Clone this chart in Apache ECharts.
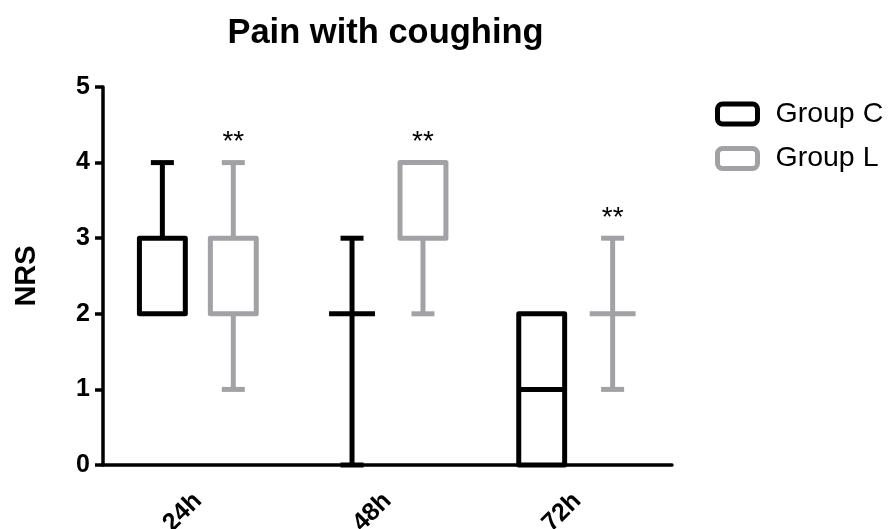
<!DOCTYPE html>
<html>
<head>
<meta charset="utf-8">
<script src="https://cdn.jsdelivr.net/npm/echarts@6/dist/echarts.min.js"></script>
<style>
html,body{margin:0;padding:0;background:#fff;}
#chart{width:890px;height:529px;}
</style>
</head>
<body>
<div id="chart"></div>
<script>
// ---- data ----
var categories = ['24h', '48h', '72h'];
// [min, Q1, median, Q3, max]
var groupC = [[2, 2, 2, 3, 4], [0, 2, 2, 2, 3], [0, 0, 1, 2, 2]];
var groupL = [[1, 2, 2, 3, 4], [2, 3, 3, 4, 4], [1, 2, 2, 2, 3]];
var significance = ['**', '**', '**'];
var yTicks = [0, 1, 2, 3, 4, 5];

var BLACK = '#000000';
var GRAY = '#a2a2a6';
var FONT = '"Liberation Sans", Arial, Helvetica, sans-serif';

function toSeriesData(stats) {
  return stats.map(function (s, i) { return [i].concat(s); });
}

function makeRender(sign, color, labels) {
  return function (params, api) {
    var idx = api.value(0);
    var mn = api.value(1), q1 = api.value(2), md = api.value(3), q3 = api.value(4), mx = api.value(5);
    var band = api.size([1, 0])[0];
    var cx = api.coord([idx, 0])[0] + sign * band * 0.187;
    var hb = band * 0.121;
    var hc = 11.5;
    var y = function (v) { return api.coord([idx, v])[1]; };
    var lw = 5;
    var st = { stroke: color, lineWidth: lw, fill: null, lineJoin: 'round', lineCap: 'butt' };
    var ch = [];
    if (mn < q1) {
      ch.push({ type: 'line', shape: { x1: cx, y1: y(q1), x2: cx, y2: y(mn) }, style: st });
      ch.push({ type: 'line', shape: { x1: cx - hc, y1: y(mn), x2: cx + hc, y2: y(mn) }, style: st });
    }
    if (mx > q3) {
      ch.push({ type: 'line', shape: { x1: cx, y1: y(q3), x2: cx, y2: y(mx) }, style: st });
      ch.push({ type: 'line', shape: { x1: cx - hc, y1: y(mx), x2: cx + hc, y2: y(mx) }, style: st });
    }
    if (q3 > q1) {
      ch.push({ type: 'rect', shape: { x: cx - hb, y: y(q3), width: 2 * hb, height: y(q1) - y(q3) },
        style: { stroke: color, lineWidth: lw, fill: '#fff', lineJoin: 'round' } });
      if (md > q1 && md < q3) {
        ch.push({ type: 'line', shape: { x1: cx - hb, y1: y(md), x2: cx + hb, y2: y(md) }, style: st });
      }
    } else {
      ch.push({ type: 'line', shape: { x1: cx - hb, y1: y(q1), x2: cx + hb, y2: y(q1) }, style: st });
    }
    if (labels && labels[idx]) {
      ch.push({ type: 'text', style: { text: labels[idx], x: cx, y: y(mx) - 6, align: 'center', verticalAlign: 'bottom',
        fill: '#000', fontSize: 28, fontFamily: FONT } });
    }
    return { type: 'group', children: ch };
  };
}

var chart = echarts.init(document.getElementById('chart'), null, { renderer: 'canvas' });
chart.setOption({
  backgroundColor: '#fff',
  animation: false,
  title: {
    text: 'Pain with coughing',
    left: 380.5,
    textAlign: 'center',
    top: 11,
    textStyle: { fontSize: 34.5, fontWeight: 'bold', color: '#000', fontFamily: FONT }
  },
  legend: {
    orient: 'vertical',
    left: 710,
    top: 94.5,
    itemWidth: 40,
    itemHeight: 20,
    itemGap: 15.5,
    textStyle: { fontSize: 28.5, color: '#000', fontFamily: FONT, padding: [0, 0, 0, 13], lineHeight: 28 },
    data: [
      { name: 'Group C', icon: 'roundRect', itemStyle: { color: '#fff', borderColor: BLACK, borderWidth: 5 } },
      { name: 'Group L', icon: 'roundRect', itemStyle: { color: '#fff', borderColor: GRAY, borderWidth: 5 } }
    ]
  },
  grid: { left: 103, right: 218, top: 87, bottom: 64, containLabel: false, outerBoundsMode: 'none' },
  xAxis: {
    type: 'category',
    data: categories,
    boundaryGap: true,
    axisLine: { lineStyle: { color: '#000', width: 3.5 } },
    axisTick: { alignWithLabel: true, length: 10, lineStyle: { color: '#000', width: 3.5 } },
    axisLabel: { rotate: 45, margin: 32, fontSize: 25, fontWeight: 'bold', color: '#000', fontFamily: FONT, interval: 0,
      padding: [30, 0, 0, 0] }
  },
  yAxis: {
    type: 'value',
    min: 0, max: 5, interval: 1,
    name: 'NRS',
    nameLocation: 'middle',
    nameGap: 62,
    nameTextStyle: { fontSize: 29, fontWeight: 'bold', color: '#000', fontFamily: FONT },
    splitLine: { show: false },
    axisLine: { show: true, lineStyle: { color: '#000', width: 3.5 } },
    axisTick: { show: true, length: 8, lineStyle: { color: '#000', width: 3.5 } },
    axisLabel: { margin: 13, fontSize: 25, fontWeight: 'bold', color: '#000', fontFamily: FONT,
      formatter: function (v) { return yTicks.indexOf(v) >= 0 ? String(v) : ''; } }
  },
  series: [
    { name: 'Group C', type: 'custom', renderItem: makeRender(-1, BLACK, null), data: toSeriesData(groupC),
      itemStyle: { color: '#fff', borderColor: BLACK }, clip: false, z: 3 },
    { name: 'Group L', type: 'custom', renderItem: makeRender(1, GRAY, significance), data: toSeriesData(groupL),
      itemStyle: { color: '#fff', borderColor: GRAY }, clip: false, z: 3 }
  ]
});
</script>
</body>
</html>
